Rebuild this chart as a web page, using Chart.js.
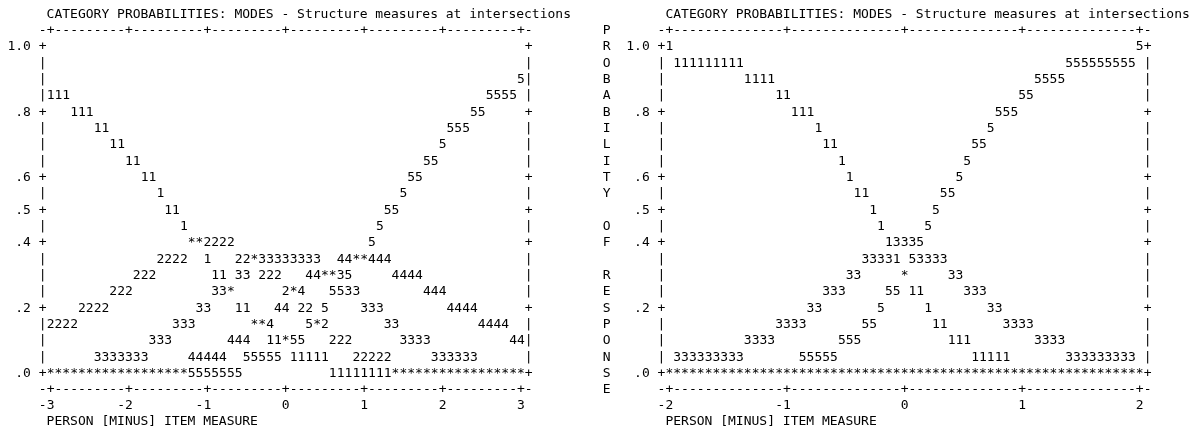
<!DOCTYPE html>
<html>
<head>
<meta charset="utf-8">
<script src="https://cdn.jsdelivr.net/npm/chart.js@4.4.1/dist/chart.umd.min.js"></script>
<style>
  html, body { margin: 0; padding: 0; background: #fff; }
  #wrap { position: relative; width: 1195px; height: 431px; overflow: hidden; background: #fff; }
  .panel { position: absolute; top: 0; height: 431px; }
  #pLeft { left: 0; width: 595px; }
  #pRight { left: 595px; width: 600px; }
</style>
</head>
<body>
<div id="wrap">
  <div class="panel" id="pLeft"><canvas id="cLeft"></canvas></div>
  <div class="panel" id="pRight"><canvas id="cRight"></canvas></div>
</div>
<script>
// ---- texts and category symbols ----
const categories = ['1', '2', '3', '4', '5'];
const chartTitle = 'CATEGORY PROBABILITIES: MODES - Structure measures at intersections';
const xAxisTitle = 'PERSON [MINUS] ITEM MEASURE';
const yAxisLetters = 'PROBABILITY OF RESPONSE';

// ---- probability axis ----
const yTickValues = [1.0, 0.8, 0.6, 0.5, 0.4, 0.2, 0.0];
const yTickLabels = ['1.0', '.8', '.6', '.5', '.4', '.2', '.0'];

// ---- left plot: measures -3 .. 3, one column every 0.1 logit ----
const leftXTicks = [-3, -2, -1, 0, 1, 2, 3];
const leftXLabels = ['-3', '-2', '-1', '0', '1', '2', '3'];
const leftCat1 = [
  0.85, 0.85, 0.85, 0.80, 0.80, 0.80, 0.75, 0.75, 0.70, 0.70,
  0.65, 0.65, 0.60, 0.60, 0.55, 0.50, 0.50, 0.45, 0.40, 0.40,
  0.35, 0.30, 0.30, 0.25, 0.20, 0.20, 0.15, 0.15, 0.10, 0.10,
  0.10, 0.05, 0.05, 0.05, 0.05, 0.05, 0, 0, 0, 0,
  0, 0, 0, 0, 0, 0, 0, 0, 0, 0,
  0, 0, 0, 0, 0, 0, 0, 0, 0, 0,
  0
];
const leftCat2 = [
  0.15, 0.15, 0.15, 0.15, 0.20, 0.20, 0.20, 0.20, 0.25, 0.25,
  0.25, 0.30, 0.30, 0.30, 0.35, 0.35, 0.35, 0.35, 0.40, 0.40,
  0.40, 0.40, 0.40, 0.40, 0.35, 0.35, 0.35, 0.30, 0.30, 0.30,
  0.25, 0.25, 0.20, 0.20, 0.15, 0.15, 0.10, 0.10, 0.10, 0.05,
  0.05, 0.05, 0.05, 0.05, 0, 0, 0, 0, 0, 0,
  0, 0, 0, 0, 0, 0, 0, 0, 0, 0,
  0
];
const leftCat3 = [
  0, 0, 0, 0, 0, 0, 0.05, 0.05, 0.05, 0.05,
  0.05, 0.05, 0.05, 0.10, 0.10, 0.10, 0.15, 0.15, 0.15, 0.20,
  0.20, 0.25, 0.25, 0.25, 0.30, 0.30, 0.35, 0.35, 0.35, 0.35,
  0.35, 0.35, 0.35, 0.35, 0.35, 0.30, 0.30, 0.30, 0.25, 0.25,
  0.20, 0.20, 0.20, 0.15, 0.15, 0.10, 0.10, 0.10, 0.10, 0.05,
  0.05, 0.05, 0.05, 0.05, 0.05, 0, 0, 0, 0, 0,
  0
];
const leftCat4 = [
  0, 0, 0, 0, 0, 0, 0, 0, 0, 0,
  0, 0, 0, 0, 0, 0, 0, 0, 0.05, 0.05,
  0.05, 0.05, 0.05, 0.10, 0.10, 0.10, 0.15, 0.15, 0.15, 0.20,
  0.20, 0.25, 0.25, 0.30, 0.30, 0.30, 0.30, 0.35, 0.35, 0.35,
  0.35, 0.35, 0.35, 0.35, 0.30, 0.30, 0.30, 0.30, 0.25, 0.25,
  0.25, 0.20, 0.20, 0.20, 0.20, 0.15, 0.15, 0.15, 0.15, 0.10,
  0.10
];
const leftCat5 = [
  0, 0, 0, 0, 0, 0, 0, 0, 0, 0,
  0, 0, 0, 0, 0, 0, 0, 0, 0, 0,
  0, 0, 0, 0, 0, 0.05, 0.05, 0.05, 0.05, 0.05,
  0.10, 0.10, 0.10, 0.15, 0.15, 0.20, 0.25, 0.25, 0.30, 0.35,
  0.35, 0.40, 0.45, 0.50, 0.50, 0.55, 0.60, 0.60, 0.65, 0.65,
  0.70, 0.75, 0.75, 0.75, 0.80, 0.80, 0.85, 0.85, 0.85, 0.85,
  0.90
];

// ---- right plot: measures -2 .. 2, fifteen columns per logit ----
const rightXTicks = [-2, -1, 0, 1, 2];
const rightXLabels = ['-2', '-1', '0', '1', '2'];
const rightCat1 = [
  1.00, 0.95, 0.95, 0.95, 0.95, 0.95, 0.95, 0.95, 0.95, 0.95,
  0.90, 0.90, 0.90, 0.90, 0.85, 0.85, 0.80, 0.80, 0.80, 0.75,
  0.70, 0.70, 0.65, 0.60, 0.55, 0.55, 0.50, 0.45, 0.40, 0.35,
  0.30, 0.25, 0.25, 0.20, 0.15, 0.15, 0.10, 0.10, 0.10, 0.05,
  0.05, 0.05, 0.05, 0.05, 0, 0, 0, 0, 0, 0,
  0, 0, 0, 0, 0, 0, 0, 0, 0, 0,
  0
];
const rightCat2 = [
  0, 0, 0, 0, 0, 0, 0, 0, 0, 0,
  0, 0, 0, 0, 0, 0, 0, 0, 0, 0,
  0, 0, 0, 0, 0, 0, 0, 0, 0, 0,
  0, 0, 0, 0, 0, 0, 0, 0, 0, 0,
  0, 0, 0, 0, 0, 0, 0, 0, 0, 0,
  0, 0, 0, 0, 0, 0, 0, 0, 0, 0,
  0
];
const rightCat3 = [
  0, 0.05, 0.05, 0.05, 0.05, 0.05, 0.05, 0.05, 0.05, 0.05,
  0.10, 0.10, 0.10, 0.10, 0.15, 0.15, 0.15, 0.15, 0.20, 0.20,
  0.25, 0.25, 0.25, 0.30, 0.30, 0.35, 0.35, 0.35, 0.35, 0.40,
  0.40, 0.40, 0.35, 0.35, 0.35, 0.35, 0.30, 0.30, 0.25, 0.25,
  0.25, 0.20, 0.20, 0.15, 0.15, 0.15, 0.15, 0.10, 0.10, 0.10,
  0.10, 0.05, 0.05, 0.05, 0.05, 0.05, 0.05, 0.05, 0.05, 0.05,
  0
];
const rightCat4 = [
  0, 0, 0, 0, 0, 0, 0, 0, 0, 0,
  0, 0, 0, 0, 0, 0, 0, 0, 0, 0,
  0, 0, 0, 0, 0, 0, 0, 0, 0, 0,
  0, 0, 0, 0, 0, 0, 0, 0, 0, 0,
  0, 0, 0, 0, 0, 0, 0, 0, 0, 0,
  0, 0, 0, 0, 0, 0, 0, 0, 0, 0,
  0
];
const rightCat5 = [
  0, 0, 0, 0, 0, 0, 0, 0, 0, 0,
  0, 0, 0, 0, 0, 0, 0, 0.05, 0.05, 0.05,
  0.05, 0.05, 0.10, 0.10, 0.10, 0.15, 0.15, 0.20, 0.25, 0.25,
  0.30, 0.35, 0.40, 0.45, 0.50, 0.55, 0.55, 0.60, 0.65, 0.70,
  0.70, 0.75, 0.80, 0.80, 0.80, 0.85, 0.85, 0.90, 0.90, 0.90,
  0.90, 0.95, 0.95, 0.95, 0.95, 0.95, 0.95, 0.95, 0.95, 0.95,
  1.00
];

// ---- character-plot geometry ----
const ROW_STEP = 0.05;          // probability per text row
const COL_W = 7.84;             // width of one character cell
const ROW_H = 16.33;            // height of one text row
const FIRST_ROW_Y = 46.9;       // centre of the 1.0 row
const FONT_SIZE = 13;
const FONT_FAMILY = "'DejaVu Sans Mono', 'Liberation Mono', monospace";
const FONT = FONT_SIZE + 'px ' + FONT_FAMILY;
const INK = '#000';

// Put every category on its text row; cells shared by several categories print '*'.
function buildDatasets(series, measures) {
  const cells = new Map();
  series.forEach((vals, k) => {
    vals.forEach((pv, i) => {
      const level = Math.round(pv / ROW_STEP);
      const key = i + '/' + level;
      if (!cells.has(key)) cells.set(key, { x: measures[i], y: level * ROW_STEP, who: [] });
      cells.get(key).who.push(k);
    });
  });
  const sets = categories.map(c => ({ label: c, glyph: c, data: [] }));
  const shared = { label: '*', glyph: '*', data: [] };
  for (const cell of cells.values()) {
    const pt = { x: cell.x, y: cell.y };
    if (cell.who.length > 1) shared.data.push(pt);
    else sets[cell.who[0]].data.push(pt);
  }
  return sets.concat([shared]).map(d => Object.assign(d, {
    pointRadius: 0, pointHoverRadius: 0, showLine: false
  }));
}

function makePanel(canvasId, p) {
  const nCols = p.series[0].length;
  const measures = p.series[0].map((_, i) => p.xFirst + i * p.xStep);
  const canvas = document.getElementById(canvasId);
  const W = canvas.parentNode.clientWidth;
  const H = canvas.parentNode.clientHeight;
  const plotTop = FIRST_ROW_Y - ROW_H / 2;
  const plotBottom = plotTop + 21 * ROW_H;
  const plotRight = p.plotLeft + nCols * COL_W;

  const glyphs = {
    id: 'glyphs',
    afterDatasetsDraw(chart) {
      const ctx = chart.ctx;
      ctx.save();
      ctx.font = FONT;
      ctx.fillStyle = INK;
      ctx.textAlign = 'center';
      ctx.textBaseline = 'middle';
      chart.data.datasets.forEach((ds, i) => {
        chart.getDatasetMeta(i).data.forEach(el => ctx.fillText(ds.glyph, el.x, el.y));
      });
      ctx.restore();
    }
  };

  const frame = {
    id: 'frame',
    afterDraw(chart) {
      const { ctx } = chart;
      const xs = chart.scales.x, ys = chart.scales.y;
      const colX = c => xs.getPixelForValue(p.xFirst + (c - 1) * p.xStep);
      const rowY = r => ys.getPixelForValue(1 - r * ROW_STEP);
      const half = (colX(1) - colX(0)) / 2;
      ctx.save();
      ctx.font = FONT;
      ctx.fillStyle = INK;
      ctx.textBaseline = 'middle';
      // heading line
      ctx.textAlign = 'left';
      ctx.fillText(chartTitle, colX(1) - half, rowY(-2));
      ctx.textAlign = 'center';
      // top and bottom rulers with '+' at the measure ticks
      const tickCols = p.xTicks.map(t => Math.round((t - p.xFirst) / p.xStep) + 1);
      for (let c = 0; c <= nCols + 1; c++) {
        const ch = tickCols.includes(c) ? '+' : '-';
        ctx.fillText(ch, colX(c), rowY(-1));
        ctx.fillText(ch, colX(c), rowY(21));
      }
      // side rails with '+' at the probability ticks
      for (let r = 0; r <= 20; r++) {
        const v = 1 - r * ROW_STEP;
        const ch = yTickValues.some(t => Math.abs(t - v) < 1e-9) ? '+' : '|';
        ctx.fillText(ch, colX(0), rowY(r));
        ctx.fillText(ch, colX(nCols + 1), rowY(r));
      }
      // vertical axis caption, one letter per row
      if (p.letters) {
        Array.from(yAxisLetters).forEach((ch, i) => ctx.fillText(ch, colX(-7), rowY(i - 1)));
      }
      ctx.restore();
    }
  };

  const tickFont = { family: FONT_FAMILY, size: FONT_SIZE, lineHeight: ROW_H / FONT_SIZE };

  return new Chart(canvas, {
    type: 'scatter',
    data: { datasets: buildDatasets(p.series, measures) },
    plugins: [glyphs, frame],
    options: {
      responsive: true,
      maintainAspectRatio: false,
      devicePixelRatio: 1,
      animation: false,
      events: [],
      layout: { padding: { left: 0, right: W - plotRight, top: plotTop, bottom: 0 } },
      plugins: { legend: { display: false }, tooltip: { enabled: false }, title: { display: false } },
      scales: {
        x: {
          type: 'linear',
          position: 'bottom',
          bounds: 'data',
          min: p.xFirst - 0.5 * p.xStep,
          max: p.xFirst + (nCols - 0.5) * p.xStep,
          grid: { display: false, drawTicks: false },
          border: { display: false },
          afterBuildTicks: s => { s.ticks = p.xTicks.map(v => ({ value: v })); },
          afterFit: s => { s.height = H - plotBottom; },
          ticks: {
            autoSkip: false,
            maxRotation: 0,
            padding: 16.2,
            color: INK,
            font: tickFont,
            // a trailing blank keeps the digit of a negative label under its tick
            callback: v => {
              const i = p.xTicks.indexOf(v);
              const s = i >= 0 ? p.xLabels[i] : '';
              return s.startsWith('-') ? s + ' ' : s;
            }
          },
          title: {
            display: true,
            text: xAxisTitle,
            align: 'start',
            color: INK,
            font: tickFont,
            padding: { top: 0, bottom: 0.8 }
          }
        },
        y: {
          type: 'linear',
          position: 'left',
          bounds: 'data',
          min: -ROW_STEP / 2,
          max: 1 + ROW_STEP / 2,
          grid: { display: false, drawTicks: false },
          border: { display: false },
          afterBuildTicks: s => { s.ticks = yTickValues.map(v => ({ value: v })); },
          afterFit: s => { s.width = p.plotLeft; },
          ticks: {
            autoSkip: false,
            padding: 2 * COL_W,
            color: INK,
            font: tickFont,
            callback: v => {
              const i = yTickValues.findIndex(t => Math.abs(t - v) < 1e-9);
              return i >= 0 ? yTickLabels[i] : '';
            }
          }
        }
      }
    }
  });
}

makePanel('cLeft', {
  series: [leftCat1, leftCat2, leftCat3, leftCat4, leftCat5],
  xFirst: -3, xStep: 0.1,
  xTicks: leftXTicks, xLabels: leftXLabels,
  plotLeft: 42.7 + COL_W / 2,
  letters: false
});

makePanel('cRight', {
  series: [rightCat1, rightCat2, rightCat3, rightCat4, rightCat5],
  xFirst: -2, xStep: 1 / 15,
  xTicks: rightXTicks, xLabels: rightXLabels,
  plotLeft: 66.5 + COL_W / 2,
  letters: true
});
</script>
</body>
</html>
